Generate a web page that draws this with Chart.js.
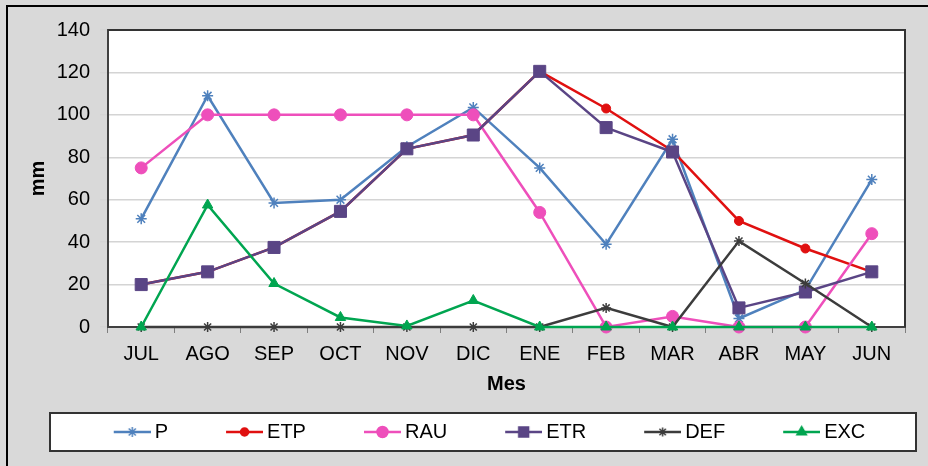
<!DOCTYPE html>
<html>
<head>
<meta charset="utf-8">
<script src="https://cdn.jsdelivr.net/npm/chart.js@4.4.1/dist/chart.umd.min.js"></script>
<style>
  html, body { margin: 0; padding: 0; background: #d9d9d9; }
  #wrap { width: 928px; height: 466px; }
</style>
</head>
<body>
<div id="wrap"><canvas id="balance"></canvas></div>
<script>
// balance hidrico mensual (mm)
const meses = ['JUL', 'AGO', 'SEP', 'OCT', 'NOV', 'DIC', 'ENE', 'FEB', 'MAR', 'ABR', 'MAY', 'JUN'];
const P   = [51, 109, 58.5, 60, 85, 103.5, 75, 39, 88.5, 4, 17.5, 69.5];
const ETP = [20, 26, 37.5, 54.5, 84, 90.5, 120.5, 103, 83, 50, 37, 26];
const RAU = [75, 100, 100, 100, 100, 100, 54, 0, 5, 0, 0, 44];
const ETR = [20, 26, 37.5, 54.5, 84, 90.5, 120.5, 94, 82.5, 9, 16.5, 26];
const DEF = [0, 0, 0, 0, 0, 0, 0, 9, 0, 40.5, 20.5, 0];
const EXC = [0, 57.5, 20.5, 4.5, 0.5, 12.5, 0, 0, 0, 0, 0, 0];
const yTicks = [0, 20, 40, 60, 80, 100, 120, 140];

const FONT = 'Liberation Sans, Arial, sans-serif';

const series = [
    { label: 'P',   data: P,   color: '#4f81bd', style: 'star',     r: 5.5, fill: '#4f81bd' },
    { label: 'ETP', data: ETP, color: '#e01010', style: 'circle',   r: 4.5, fill: '#e01010' },
    { label: 'RAU', data: RAU, color: '#ee4fbb', style: 'circle',   r: 6,   fill: '#ee4fbb' },
    { label: 'ETR', data: ETR, color: '#5a4585', style: 'rect',     r: 8.5, fill: '#5a4585' },
    { label: 'DEF', data: DEF, color: '#3c3c3c', style: 'star',     r: 5,   fill: '#3c3c3c' },
    { label: 'EXC', data: EXC, color: '#00a550', style: 'triangle', r: 6,   fill: '#00a550' }
];

// little "line + marker" picture for each legend entry
function legendIcon(s) {
    const c = document.createElement('canvas');
    c.width = 91; c.height = 18;
    const g = c.getContext('2d');
    g.strokeStyle = s.color;
    g.lineWidth = 2.5;
    g.beginPath();
    g.moveTo(c.width - 37, 9);
    g.lineTo(c.width, 9);
    g.stroke();
    g.fillStyle = s.fill;
    g.strokeStyle = s.color;
    g.lineWidth = 1.5;
    Chart.helpers.drawPoint(g, { pointStyle: s.style, radius: s.style === 'rect' ? 7 : s.r - 0.5, rotation: 0, borderWidth: 1.5 }, c.width - 18.5, 9);
    if (s.style !== 'star') g.fill();
    return c;
}

const frame = {
    id: 'frame',
    beforeDraw(chart) {
        const ctx = chart.ctx;
        const a = chart.chartArea;
        ctx.save();
        ctx.fillStyle = '#d9d9d9';
        ctx.fillRect(0, 0, chart.width, chart.height);
        ctx.fillStyle = '#ffffff';
        ctx.fillRect(a.left, a.top, a.right - a.left, a.bottom - a.top);
        // outer border (top + left only, picture is cropped)
        ctx.strokeStyle = '#000';
        ctx.lineWidth = 2;
        ctx.beginPath();
        ctx.moveTo(7, chart.height);
        ctx.lineTo(7, 6);
        ctx.lineTo(chart.width, 6);
        ctx.stroke();
        // legend box
        const lg = chart.legend;
        ctx.fillStyle = '#fff';
        ctx.fillRect(50, lg.top + 1, 866, lg.height - 2);
        ctx.strokeStyle = '#333';
        ctx.lineWidth = 2;
        ctx.strokeRect(50, lg.top + 1, 866, lg.height - 2);
        ctx.restore();
    },
    afterDatasetsDraw(chart) {
        const ctx = chart.ctx;
        const a = chart.chartArea;
        ctx.save();
        ctx.strokeStyle = '#333';
        ctx.lineWidth = 2;
        ctx.beginPath();
        ctx.moveTo(a.left, a.top);
        ctx.lineTo(a.right, a.top);
        ctx.lineTo(a.right, a.bottom);
        ctx.stroke();
        ctx.restore();
    }
};

new Chart(document.getElementById('balance'), {
    type: 'line',
    data: {
        labels: meses,
        datasets: series.map((s, i) => ({
            label: s.label,
            data: s.data,
            borderColor: s.color,
            backgroundColor: s.fill,
            borderWidth: 2.5,
            pointStyle: s.style,
            pointRadius: s.r,
            pointBorderWidth: s.style === 'star' ? 1.5 : 1,
            pointBackgroundColor: s.fill,
            pointBorderColor: s.color,
            tension: 0,
            fill: false,
            clip: false,
            order: series.length - i   // later series on top, like the original
        }))
    },
    options: {
        responsive: true,
        maintainAspectRatio: false,
        animation: false,
        layout: { padding: { left: 26, right: 23, top: 30, bottom: 14 } },
        plugins: {
            tooltip: { enabled: false },
            legend: {
                position: 'bottom',
                labels: {
                    usePointStyle: true,
                    pointStyleWidth: 79,
                    padding: 10,
                    color: '#000',
                    font: { family: FONT, size: 20 },
                    sort: (a, b) => a.datasetIndex - b.datasetIndex,
                    generateLabels: chart => series.map((s, i) => ({
                        text: s.label,
                        pointStyle: legendIcon(s),
                        fillStyle: s.fill,
                        strokeStyle: s.color,
                        lineWidth: 0,
                        hidden: false,
                        datasetIndex: i,
                        fontColor: '#000'
                    }))
                }
            }
        },
        scales: {
            x: {
                offset: true,
                afterFit: s => { s.height = 85; },
                grid: { display: true, offset: true, drawOnChartArea: false, drawTicks: true, tickLength: 6, color: '#7f7f7f', lineWidth: 1 },
                border: { color: '#404040', width: 2 },
                ticks: { color: '#000', padding: 9, font: { family: FONT, size: 20 }, maxRotation: 0 },
                title: { display: true, text: 'Mes', color: '#000', font: { family: FONT, size: 20, weight: 'bold' }, padding: { top: 0, bottom: 16 } }
            },
            y: {
                min: 0,
                max: 140,
                afterFit: s => { s.width = 82; },
                afterBuildTicks: s => { s.ticks = yTicks.map(v => ({ value: v })); },
                grid: { color: '#d4d4d4', lineWidth: 1.5, drawTicks: true, tickLength: 8 },
                border: { color: '#404040', width: 2 },
                ticks: { color: '#000', padding: 10, font: { family: FONT, size: 20 } },
                title: { display: true, text: 'mm', color: '#000', font: { family: FONT, size: 20, weight: 'bold' }, padding: { top: 0, bottom: 0 } }
            }
        }
    },
    plugins: [frame]
});
</script>
</body>
</html>
